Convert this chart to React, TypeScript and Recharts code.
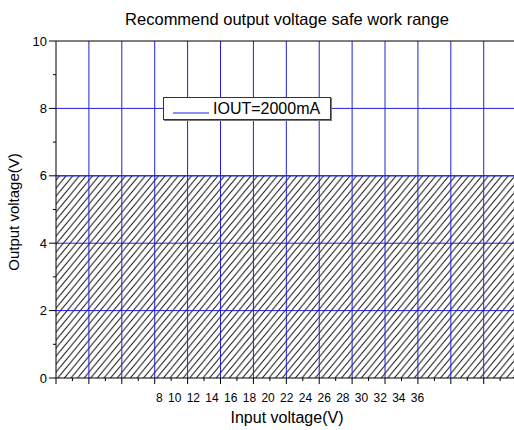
import React from 'react';
import { ComposedChart, Area, XAxis, YAxis, ReferenceLine, Legend } from 'recharts';

const chartTitle = 'Recommend output voltage safe work range';
const xAxisTitle = 'Input voltage(V)';
const yAxisTitle = 'Output voltage(V)';
const seriesName = 'IOUT=2000mA';
const xTickLabels = [8, 10, 12, 14, 16, 18, 20, 22, 24, 26, 28, 30, 32, 34, 36];
const yTickValues = [0, 1, 2, 3, 4, 5, 6, 7, 8, 9, 10];
const yLabelled = [0, 2, 4, 6, 8, 10];
const xTickValues = [0, 0.5, 1, 1.5, 2, 2.5, 3, 3.5, 4, 4.5, 5, 5.5, 6, 6.5, 7, 7.5, 8, 8.5, 9, 9.5, 10, 10.5, 11, 11.5, 12, 12.5, 13, 13.5];
const xGrid = [1, 2, 3, 4, 5, 6, 7, 8, 9, 10, 11, 12, 13];
const yGrid = [2, 4, 6, 8];
const safeX = [0, 14];
const safeY = [6, 6];

const data = safeX.map((x, i) => ({ x, y: safeY[i] }));

const FONT = 'Liberation Sans, Arial, sans-serif';
const BLUE = '#2020d8';

const XTick = (props: any) => {
  const { x, y, payload } = props;
  const major = Number.isInteger(payload.value);
  return <line x1={x} x2={x} y1={y} y2={y + (major ? 6 : 3)} stroke="#000" strokeWidth={1} />;
};

const YTick = (props: any) => {
  const { x, y, payload } = props;
  const major = yLabelled.includes(payload.value);
  return (
    <g>
      <line x1={x - (major ? 7 : 3)} x2={x} y1={y} y2={y} stroke="#000" strokeWidth={1} />
      {major && (
        <text x={x - 9} y={y} dy={4.5} textAnchor="end" fontSize={13} fontFamily={FONT} fill="#000">
          {payload.value}
        </text>
      )}
    </g>
  );
};

const LegendBox = () => (
  <div
    style={{
      width: 168,
      height: 23,
      boxSizing: 'border-box',
      border: '1px solid #333',
      boxShadow: '1px 1px 0 #777',
      background: '#fff',
      display: 'flex',
      alignItems: 'center',
      fontFamily: FONT,
      fontSize: 16,
      color: '#000',
    }}
  >
    <svg width={46} height={20} style={{ display: 'block' }}>
      <line x1={9} x2={45} y1={14} y2={14} stroke={BLUE} strokeWidth={1} />
    </svg>
    <span style={{ marginLeft: 3, lineHeight: '20px' }}>{seriesName}</span>
  </div>
);

export default function App() {
  return (
    <div style={{ position: 'absolute', left: 0, top: 0 }}>
      <ComposedChart width={514} height={430} data={data} margin={{ top: 41, right: 0, bottom: 0, left: 0 }}>
        <defs>
          <pattern id="hatch" patternUnits="userSpaceOnUse" width={6.6} height={8}>
            <path d="M0,8 L6.6,0 M-1,1 L1,-1 M5.6,9 L7.6,7" stroke="#111" strokeWidth={1} />
          </pattern>
        </defs>
        <XAxis
          type="number"
          dataKey="x"
          domain={[0, 13.92]}
          allowDataOverflow
          ticks={xTickValues}
          interval={0}
          tickSize={0}
          tickMargin={0}
          tick={<XTick />}
          tickLine={false}
          axisLine={{ stroke: '#000' }}
          height={52}
        />
        <YAxis
          type="number"
          domain={[0, 10]}
          ticks={yTickValues}
          interval={0}
          tickSize={0}
          tickMargin={0}
          tick={<YTick />}
          tickLine={false}
          axisLine={{ stroke: '#000' }}
          width={56}
        />
        <Area
          type="linear"
          dataKey="y"
          name={seriesName}
          stroke={BLUE}
          strokeWidth={1}
          fill="url(#hatch)"
          fillOpacity={1}
          isAnimationActive={false}
        />
        {xGrid.map((v) => (
          <ReferenceLine key={'gx' + v} x={v} stroke={BLUE} strokeWidth={1} />
        ))}
        {yGrid.map((v) => (
          <ReferenceLine key={'gy' + v} y={v} stroke={BLUE} strokeWidth={1} />
        ))}
        <ReferenceLine y={10} stroke="#000" strokeWidth={1} />
        <Legend
          layout="horizontal"
          verticalAlign="middle"
          align="center"
          content={<LegendBox />}
          wrapperStyle={{ position: 'absolute', left: 163, top: 97, width: 170 }}
        />
        <text x={287} y={25} textAnchor="middle" fontSize={16.5} fontFamily={FONT} fill="#000">
          {chartTitle}
        </text>
        <text x={156} y={402} textAnchor="start" fontSize={12} wordSpacing={2} fontFamily={FONT} fill="#000">
          {xTickLabels.join(' ')}
        </text>
        <text x={287} y={423} textAnchor="middle" fontSize={16} fontFamily={FONT} fill="#000">
          {xAxisTitle}
        </text>
        <text
          transform="rotate(-90)"
          x={-212}
          y={19}
          textAnchor="middle"
          fontSize={15}
          fontFamily={FONT}
          fill="#000"
        >
          {yAxisTitle}
        </text>
      </ComposedChart>
    </div>
  );
}
